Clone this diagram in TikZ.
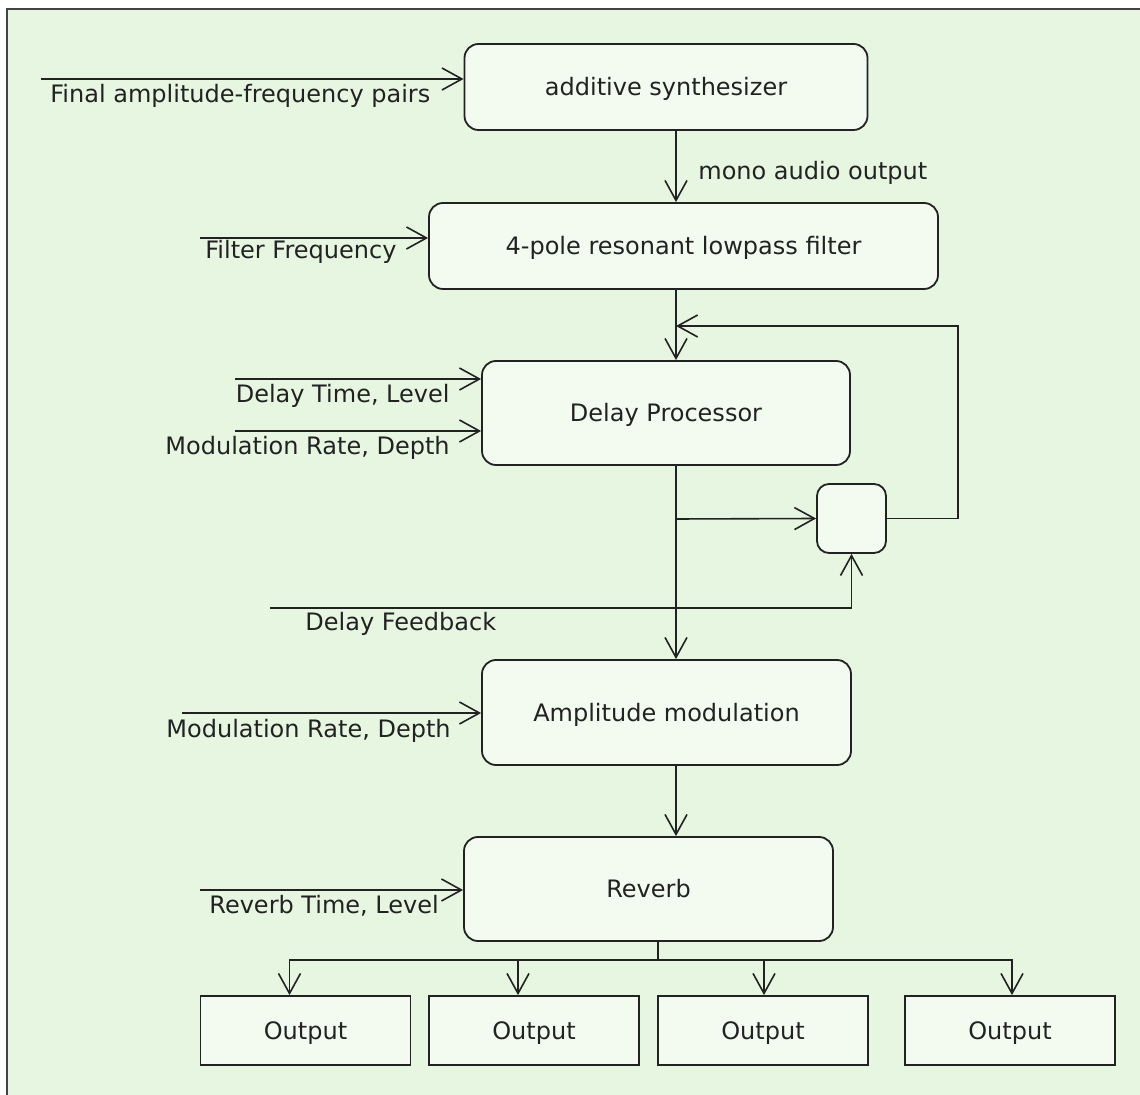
\documentclass[tikz,border=0pt]{standalone}
\usepackage{fontspec}
\setmainfont{DejaVu Sans}
\usetikzlibrary{arrows.meta}
\definecolor{bggreen}{RGB}{231,246,225}
\definecolor{boxfill}{RGB}{243,251,240}
\definecolor{ink}{RGB}{34,34,34}

\begin{document}
\begin{tikzpicture}[
		x=0.5pt, y=-0.5pt,
		every node/.style={font=\fontsize{12}{14}\selectfont, text=ink, inner sep=0pt},
		block/.style={draw=ink, line width=0.9pt, fill=boxfill, rounded corners=7pt, text height=9pt, text depth=0.5pt},
		outbox/.style={draw=ink, line width=0.9pt, fill=boxfill, minimum width=105pt, minimum height=34.5pt, text height=9pt, text depth=0.5pt},
		flow/.style={draw=ink, line width=0.8pt, -{Straight Barb[length=10pt, width=11pt]}},
		wire/.style={draw=ink, line width=0.8pt}
	]
  \useasboundingbox (0,0) rectangle (1140,1095);
  \fill[white] (0,0) rectangle (1140,1095);
  \draw[fill=bggreen, draw=ink!85, line width=1.2pt] (7,9) rectangle (1160,1115);

  \node (synth) [block, minimum width=201.5pt, minimum height=43pt] at (666, 87) {additive synthesizer};
  \node (filt) [block, minimum width=254.5pt, minimum height=43pt] at (683.5, 246) {4-pole resonant lowpass filter};
  \node (delay) [block, minimum width=184pt, minimum height=52pt] at (666, 413) {Delay Processor};
  \node (mix) [block, rounded corners=6pt, minimum size=34.5pt] at (851.5, 518.5) {};
  \node (ampmod) [block, minimum width=184.5pt, minimum height=52.5pt] at (666.5, 712.5) {Amplitude modulation};
  \node (reverb) [block, minimum width=184.5pt, minimum height=52pt] at (648.5, 889) {Reverb};
  \node (out1) [outbox] at (305.5, 1030.5) {Output};
  \node (out2) [outbox] at (534, 1030.5) {Output};
  \node (out3) [outbox] at (763, 1030.5) {Output};
  \node (out4) [outbox] at (1010, 1030.5) {Output};

  \coordinate (spine) at (676, 0);
  \draw[flow] (synth.south -| spine) -- (filt.north -| spine);
  \node (mono_label) [anchor=base west] at (698, 180) {mono audio output};
  \draw[flow] (filt.south -| spine) -- (delay.north -| spine);
  \draw[flow] (delay.south -| spine) -- (ampmod.north -| spine);
  \draw[flow] (ampmod.south -| spine) -- (reverb.north -| spine);

  \coordinate (split) at (676, 519);
  \draw[flow] (split) -- (mix.west);
  \coordinate (loop) at (958, 326);
  \draw[flow] (mix.east) -| (loop) -- (loop -| spine);
  \coordinate (fb_in) at (270, 608);
  \draw[flow] (fb_in) -| (mix.south);
  \node (fb_label) [anchor=base west] at (305, 631) {Delay Feedback};

  \coordinate (in_synth) at (41, 79);
  \draw[flow] (in_synth) -- (in_synth -| synth.west);
  \node (in_synth_label) [anchor=base west] at (50, 103) {Final amplitude-frequency pairs};
  \coordinate (in_filt) at (200, 238);
  \draw[flow] (in_filt) -- (in_filt -| filt.west);
  \node (in_filt_label) [anchor=base west] at (205, 259) {Filter Frequency};
  \coordinate (in_time) at (235, 379);
  \draw[flow] (in_time) -- (in_time -| delay.west);
  \node (in_time_label) [anchor=base east] at (450, 403) {Delay Time, Level};
  \coordinate (in_rate) at (235, 431);
  \draw[flow] (in_rate) -- (in_rate -| delay.west);
  \node (in_rate_label) [anchor=base east] at (450, 455) {Modulation Rate, Depth};
  \coordinate (in_am) at (182, 713);
  \draw[flow] (in_am) -- (in_am -| ampmod.west);
  \node (in_am_label) [anchor=base east] at (451, 737) {Modulation Rate, Depth};
  \coordinate (in_rev) at (200, 890);
  \draw[flow] (in_rev) -- (in_rev -| reverb.west);
  \node (in_rev_label) [anchor=base west] at (209, 913) {Reverb Time, Level};

  \coordinate (fork) at (658, 960);
  \draw[wire] (reverb.south -| fork) -- (fork);
  \foreach \o/\dx in {out1/-8pt, out2/-8pt, out3/0.5pt, out4/1pt}
    \draw[flow] (fork) -| ([xshift=\dx]\o.north);
\end{tikzpicture}
\end{document}
